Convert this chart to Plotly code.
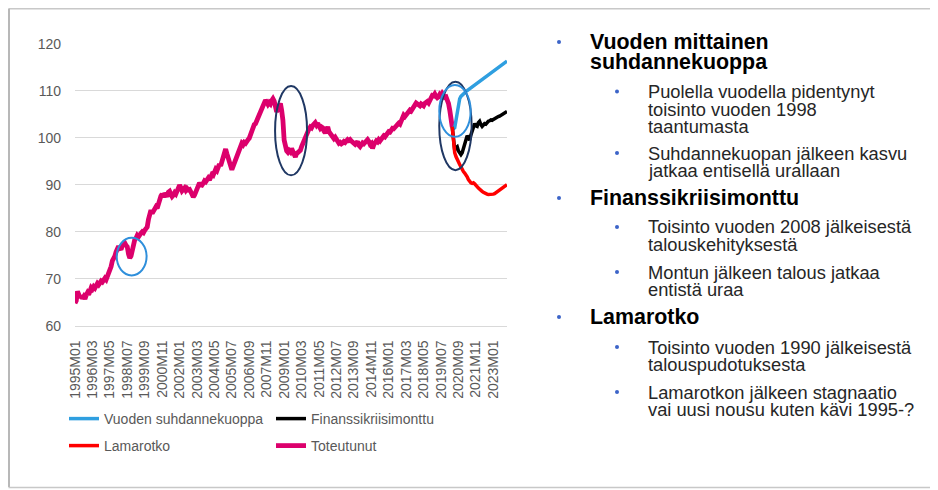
import plotly.graph_objects as go

# the page body has an 8px margin, so the figure is drawn 8px in from the corner
OFF = 8
W, H = 938 - OFF, 490 - OFF

# monthly categories 1995M01 .. 2023M12
months = [f"{y}M{m:02d}" for y in range(1995, 2024) for m in range(1, 13)]

tick_labels = [
    "1995M01", "1996M03", "1997M05", "1998M07", "1999M09", "2000M11",
    "2002M01", "2003M03", "2004M05", "2005M07", "2006M09", "2007M11",
    "2009M01", "2010M03", "2011M05", "2012M07", "2013M09", "2014M11",
    "2016M01", "2017M03", "2018M05", "2019M07", "2020M09", "2021M11",
    "2023M01",
]

# 1995M01 .. 2020M04
toteutunut = [
    64.8, 65.3, 67.3, 66.8, 66.0, 66.4, 65.8, 66.2, 65.7, 66.5, 67.0, 66.6,
    67.5, 68.1, 67.8, 68.3, 68.0, 68.6, 69.0, 68.7, 69.2, 69.5, 69.3, 69.8,
    70.1, 69.8, 70.5, 70.9, 71.8, 72.6, 73.8, 74.2, 74.8, 75.7, 76.4, 76.9,
    76.5, 76.2, 77.0, 77.3, 77.6, 77.1, 76.8, 75.2, 74.4, 74.8, 76.2, 78.0,
    78.3, 78.6, 79.2, 78.9, 79.5, 79.7, 80.0, 79.8, 80.3, 80.5, 81.0, 82.6,
    84.2, 84.6, 83.9, 84.3, 84.9, 85.3, 85.0, 86.1, 87.2, 87.6, 88.0, 87.4,
    88.2, 87.9, 87.5, 88.4, 88.6, 88.0, 87.5, 87.8, 88.3, 88.0, 88.6, 89.5,
    89.9, 89.4, 88.7, 89.0, 89.3, 88.8, 89.2, 88.9, 89.0, 88.5, 87.9, 87.4,
    87.8, 88.5, 89.0, 89.6, 90.4, 90.0, 89.9, 90.3, 90.8, 90.6, 91.2, 91.4,
    91.0, 91.7, 92.2, 92.0, 92.9, 93.3, 93.0, 93.8, 94.4, 94.0, 95.0, 95.6,
    96.4, 97.6, 96.6, 95.4, 94.9, 94.0, 93.2, 94.0, 94.8, 95.3, 95.9, 96.5,
    97.3, 98.0, 98.8, 98.5, 99.0, 98.8, 99.4, 99.6, 99.9, 100.8, 101.6, 102.3,
    102.8, 103.0, 103.6, 104.3, 104.8, 105.1, 105.9, 106.6, 107.4, 108.0, 107.6, 107.1,
    107.5, 107.2, 107.9, 108.3, 107.8, 106.4, 105.5, 106.2, 107.0, 107.3, 105.8, 103.7,
    99.5, 97.8, 97.2, 96.9, 97.3, 97.0, 97.7, 97.1, 96.2, 95.9, 96.6, 96.9,
    97.0, 97.3, 98.1, 98.8, 99.6, 100.2, 100.9, 101.4, 101.9, 102.3, 102.1, 102.6,
    102.9, 103.2, 102.7, 103.1, 102.5, 102.0, 102.3, 102.1, 101.4, 101.0, 101.6, 102.3,
    101.3, 100.9, 100.6, 100.4, 99.8, 100.1, 99.5, 99.2, 98.8, 99.0, 98.7, 98.9,
    99.2, 99.0, 99.3, 99.6, 99.4, 99.6, 99.3, 99.0, 98.8, 98.6, 98.9, 99.2,
    98.4, 98.1, 98.5, 98.9, 98.7, 99.1, 99.4, 99.6, 99.2, 98.6, 98.8, 97.7,
    98.5, 98.9, 99.3, 99.1, 99.6, 99.3, 99.8, 100.1, 100.4, 100.2, 100.6, 101.0,
    101.3, 101.2, 101.8, 102.0, 101.9, 102.4, 102.5, 102.8, 103.1, 102.9, 103.6, 104.2,
    104.8, 104.5, 104.9, 105.4, 105.6, 105.9, 105.7, 106.2, 106.6, 107.0, 107.4, 107.2,
    107.0, 106.8, 107.2, 107.0, 106.8, 107.3, 107.5, 107.7, 107.4, 107.9, 108.3, 109.0,
    108.9, 109.3, 108.8, 108.5, 108.7, 109.2, 108.9, 109.4, 109.0, 108.6, 108.7, 108.2,
    107.3, 105.9, 103.4, 102.3,
]

# scenarios 2020M04 .. 2023M12
vuoden_suhdannekuoppa = [
    102.3, 101.9, 102.1, 103.6, 105.9, 107.4, 108.3, 108.8, 109.1, 109.3,
    109.6, 109.8, 110.0, 110.2, 110.4, 110.6, 110.8, 111.0, 111.2, 111.4,
    111.6, 111.8, 112.0, 112.2, 112.4, 112.6, 112.8, 113.0, 113.2, 113.4,
    113.6, 113.8, 114.0, 114.2, 114.4, 114.6, 114.8, 115.0, 115.2, 115.4,
    115.6, 115.8, 116.0, 116.2, 116.3,
]
finanssikriisimonttu = [
    102.3, 99.8, 97.4, 97.9, 98.1, 97.2, 96.9, 96.4, 96.8, 97.9,
    98.9, 99.3, 100.4, 100.0, 99.5, 100.6, 101.5, 102.3, 103.0, 102.5,
    102.4, 103.2, 103.5, 102.8, 102.4, 102.7, 103.0, 102.9, 103.3, 103.5,
    103.6, 103.8, 103.7, 103.9, 104.1, 104.2, 104.4, 104.5, 104.6, 104.8,
    105.0, 105.1, 105.3, 105.4, 105.6,
]
lamarotko = [
    102.3, 99.5, 96.8, 96.0, 95.3, 94.8, 94.3, 93.8, 93.2, 92.8,
    92.5, 92.2, 91.7, 91.1, 90.6, 90.4, 90.3, 90.4, 90.2, 90.0,
    89.6, 89.3, 89.0, 88.8, 88.6, 88.4, 88.2, 88.1, 88.0, 87.9,
    87.9, 88.0, 87.9, 88.0, 88.1, 88.3, 88.5, 88.6, 88.8, 89.0,
    89.2, 89.4, 89.6, 89.8, 90.0,
]

n_act = len(toteutunut)
x_act = months[:n_act]
x_scen = months[n_act - 1:n_act - 1 + len(lamarotko)]

# highlighted episodes: (x0, x1, y0, y1, colour) in month index / index value
ellipses = [
    (33.5, 57.5, 70.7, 78.7, "#2F8FDB"),
    (160.7, 186.4, 92.0, 111.0, "#203864"),
    (292.6, 318.6, 93.1, 111.9, "#203864"),
    (292.6, 317.8, 100.2, 111.2, "#2F8FDB"),
]

# right-hand bullet text: (level, lines, y of first line in px)
bullets = [
    (1, ["Vuoden mittainen", "suhdannekuoppa"], 42),
    (2, ["Puolella vuodella pidentynyt", "toisinto vuoden 1998", "taantumasta"], 91.5),
    (2, ["Suhdannekuopan jälkeen kasvu", "jatkaa entisellä urallaan"], 153),
    (1, ["Finanssikriisimonttu"], 198),
    (2, ["Toisinto vuoden 2008 jälkeisestä", "talouskehityksestä"], 227),
    (2, ["Montun jälkeen talous jatkaa", "entistä uraa"], 272),
    (1, ["Lamarotko"], 317),
    (2, ["Toisinto vuoden 1990 jälkeisestä", "talouspudotuksesta"], 347),
    (2, ["Lamarotkon jälkeen stagnaatio", "vai uusi nousu kuten kävi 1995-?"], 392),
]

FONT = "Liberation Sans, Arial, sans-serif"


def px(x):
    # page pixel -> paper fraction
    return (x - OFF) / W


def py(y):
    return 1 - (y - OFF) / H


fig = go.Figure()

fig.add_trace(go.Scatter(x=x_act, y=toteutunut, mode="lines", name="Toteutunut",
                         line=dict(color="#DC006C", width=4.8), legend="legend4"))
fig.add_trace(go.Scatter(x=x_scen, y=vuoden_suhdannekuoppa, mode="lines",
                         name="Vuoden suhdannekuoppa",
                         line=dict(color="#2F9FE0", width=3.5), legend="legend"))
fig.add_trace(go.Scatter(x=x_scen, y=finanssikriisimonttu, mode="lines",
                         name="Finanssikriisimonttu",
                         line=dict(color="#000000", width=3.5), legend="legend2"))
fig.add_trace(go.Scatter(x=x_scen, y=lamarotko, mode="lines", name="Lamarotko",
                         line=dict(color="#FF0000", width=3.5), legend="legend3"))

shapes = []
for x0, x1, y0, y1, c in ellipses:
    shapes.append(dict(type="circle", xref="x", yref="y", x0=x0, x1=x1, y0=y0, y1=y1,
                       line=dict(color=c, width=2)))

# slide frame
shapes.append(dict(type="line", xref="paper", yref="paper", x0=px(8.5), x1=1.0,
                   y0=py(8.7), y1=py(8.7), line=dict(color="#C8C8C8", width=1.5)))
shapes.append(dict(type="line", xref="paper", yref="paper", x0=px(9), x1=px(9),
                   y0=py(8.7), y1=py(487), line=dict(color="#B8B8B8", width=2)))
shapes.append(dict(type="line", xref="paper", yref="paper", x0=px(8.5), x1=1.0,
                   y0=py(487.5), y1=py(487.5), line=dict(color="#C8C8C8", width=1.5)))

annotations = []
for level, lines, y0 in bullets:
    if level == 1:
        bx, tx, size, step, weight, col = 559, 588, 21.4, 20, "bold", "#000000"
    else:
        bx, tx, size, step, weight, col = 617, 646, 18.3, 17.7, "normal", "#262626"
    shapes.append(dict(type="circle", xref="paper", yref="paper",
                       x0=px(bx - 2), x1=px(bx + 2), y0=py(y0 + 2), y1=py(y0 - 2),
                       fillcolor="#3C64C8", line=dict(width=0)))
    for i, t in enumerate(lines):
        annotations.append(dict(x=px(tx), y=py(y0 + i * step), xref="paper", yref="paper",
                                text=t, showarrow=False, xanchor="left", yanchor="middle",
                                font=dict(family=FONT, size=size, color=col, weight=weight)))

leg_style = dict(orientation="h", xanchor="left", yanchor="middle", visible=True,
                 bgcolor="rgba(0,0,0,0)", font=dict(family=FONT, size=14, color="#595959"))

fig.update_layout(
    width=W, height=H,
    margin=dict(l=0, r=0, t=0, b=0, autoexpand=False),
    paper_bgcolor="white", plot_bgcolor="white",
    font=dict(family=FONT, color="#595959"),
    showlegend=True,
    xaxis=dict(domain=[px(75), px(507)], type="category", range=[0, 347],
               tickmode="array", tickvals=tick_labels, ticktext=tick_labels,
               tickangle=-90, tickfont=dict(size=14, color="#595959"),
               showgrid=False, zeroline=False, ticks="", ticklabelstandoff=8,
               showline=True, linecolor="#D9D9D9", linewidth=1.3, automargin=False),
    yaxis=dict(domain=[py(325.7), py(43.5)], range=[60, 120.05], dtick=10,
               tickfont=dict(size=14, color="#595959"), gridcolor="#D9D9D9",
               gridwidth=1.3, zeroline=False, ticks="", ticklabelstandoff=13,
               automargin=False),
    legend=dict(x=px(64), y=py(419), **leg_style),
    legend2=dict(x=px(271), y=py(419), **leg_style),
    legend3=dict(x=px(64), y=py(446), **leg_style),
    legend4=dict(x=px(271), y=py(446), **leg_style),
    shapes=shapes,
    annotations=annotations,
)

fig.write_html("out.html")
